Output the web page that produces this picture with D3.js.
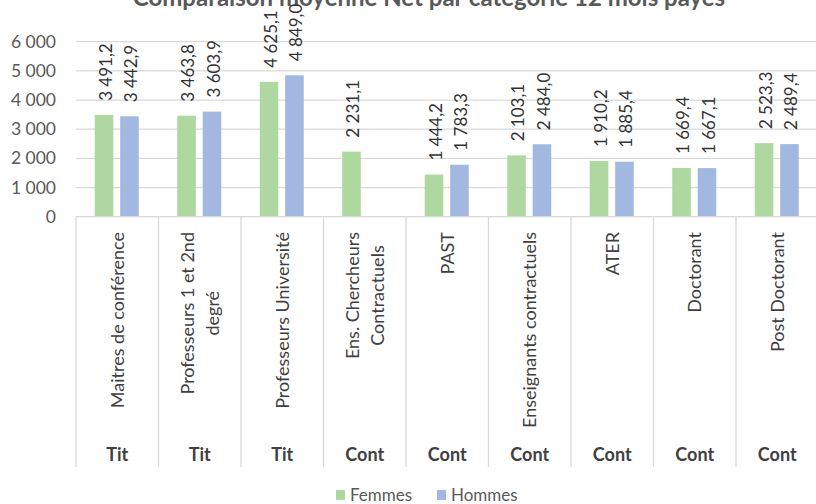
<!DOCTYPE html>
<html><head><meta charset="utf-8">
<script src="https://cdn.jsdelivr.net/npm/d3@7"></script>
<style>
html,body{margin:0;padding:0;background:#fff;}
svg{display:block;font-family:Lato, "Open Sans", sans-serif;}
</style></head>
<body><svg id="chart" width="816" height="504"></svg>
<script>
const title = "Comparaison moyenne Net par catégorie 12 mois payés";
const categories = ["Maitres de conférence","Professeurs 1 et 2nd|degré","Professeurs Université","Ens. Chercheurs|Contractuels","PAST","Enseignants contractuels","ATER","Doctorant","Post Doctorant"];
const groups = ["Tit","Tit","Tit","Cont","Cont","Cont","Cont","Cont","Cont"];
const series = ["Femmes","Hommes"];
const femmes = [3491.2,3463.8,4625.1,2231.1,1444.2,2103.1,1910.2,1669.4,2523.3];
const hommes = [3442.9,3603.9,4849.0,null,1783.3,2484.0,1885.4,1667.1,2489.4];
const yTicks = [0,1000,2000,3000,4000,5000,6000];
const colors = ["#aed8a0","#a3b8e0"];

const svg = d3.select("#chart");
const fmtNum = d3.formatLocale({decimal:",",thousands:"\u00a0",grouping:[3],currency:["","€"]});
const fmtTick = v => fmtNum.format(",.0f")(v);
const fmtVal = v => fmtNum.format(",.1f")(v);

const y = d3.scaleLinear().domain([0,6000]).range([216.7,41.7]);
const x0 = d3.scaleBand().domain(categories).range([76,818.5]).padding(0);
const bw = x0.bandwidth();
const x1 = d3.scaleBand().domain(series).range([bw/2-22.5, bw/2+21.5]).paddingInner(0.27);

// title (clipped at top like the reference)
svg.append("text").attr("x",429).attr("y",6).attr("text-anchor","middle")
  .attr("font-size",24).attr("font-weight",700).attr("fill","#595959").text(title);

// gridlines
svg.append("g").selectAll("line").data(yTicks.filter(d=>d>0)).join("line")
  .attr("x1",76).attr("x2",818).attr("y1",d=>y(d)).attr("y2",d=>y(d))
  .attr("stroke","#d9d9d9").attr("stroke-width",1.3);

// y tick labels
svg.append("g").selectAll("text").data(yTicks).join("text")
  .attr("x",56).attr("y",d=>y(d)).attr("dy","0.35em").attr("text-anchor","end")
  .attr("font-size",17.5).attr("fill","#595959").text(d=>fmtTick(d));

// bars
const data = categories.map((c,i)=>({c, vals:[femmes[i],hommes[i]]}));
const gCat = svg.append("g").selectAll("g").data(data).join("g")
  .attr("transform",d=>`translate(${x0(d.c)},0)`);
gCat.selectAll("rect").data(d=>d.vals.map((v,j)=>({s:series[j],v,j})).filter(e=>e.v!=null)).join("rect")
  .attr("x",e=>x1(e.s)).attr("width",x1.bandwidth())
  .attr("y",e=>y(e.v)).attr("height",e=>y(0)-y(e.v))
  .attr("fill",e=>colors[e.j]);
// data labels
gCat.selectAll("text.val").data(d=>d.vals.map((v,j)=>({s:series[j],v,j})).filter(e=>e.v!=null)).join("text")
  .attr("class","val")
  .attr("transform",e=>`translate(${x1(e.s)+x1.bandwidth()/2+2},${y(e.v)-14}) rotate(-90)`)
  .attr("dy","0.35em").attr("text-anchor","start")
  .attr("font-size",17).attr("fill","#333333").text(e=>fmtVal(e.v));

// axis line and category separators
svg.append("line").attr("x1",76).attr("x2",818).attr("y1",y(0)).attr("y2",y(0))
  .attr("stroke","#d9d9d9").attr("stroke-width",1.3);
const bounds = categories.map(c=>x0(c)).concat([x0.range()[1]]);
svg.append("g").selectAll("line").data(bounds).join("line")
  .attr("x1",d=>d).attr("x2",d=>d).attr("y1",y(0)).attr("y2",467)
  .attr("stroke","#d9d9d9").attr("stroke-width",1.3);

// category labels (rotated, multi-line centred)
const lineH = 25;
categories.forEach(c=>{
  const lines = c.split("|");
  const cx = x0(c)+bw/2;
  const g = svg.append("g").attr("transform",`translate(${cx},232) rotate(-90)`);
  const ts = lines.map((l,i)=>g.append("text").attr("font-size",18).attr("fill","#404040")
      .attr("text-anchor","middle").attr("dy","0.35em")
      .attr("y",(i-(lines.length-1)/2)*lineH).text(l));
  const maxW = d3.max(ts,t=>t.node().getComputedTextLength());
  ts.forEach(t=>t.attr("x",-maxW/2));
});

// group labels
svg.append("g").selectAll("text").data(categories).join("text")
  .attr("x",c=>x0(c)+bw/2).attr("y",461).attr("text-anchor","middle")
  .attr("font-size",18).attr("font-weight",700).attr("fill","#404040")
  .text((c,i)=>groups[i]);

// legend
const legX = [336,437];
const lg = svg.append("g").selectAll("g").data(series).join("g")
  .attr("transform",(s,i)=>`translate(${legX[i]},495)`);
lg.append("rect").attr("x",0).attr("y",-5).attr("width",9).attr("height",10).attr("fill",(s,i)=>colors[i]);
lg.append("text").attr("x",14).attr("dy","0.35em").attr("font-size",17).attr("fill","#595959").text(s=>s);
</script></body></html>
